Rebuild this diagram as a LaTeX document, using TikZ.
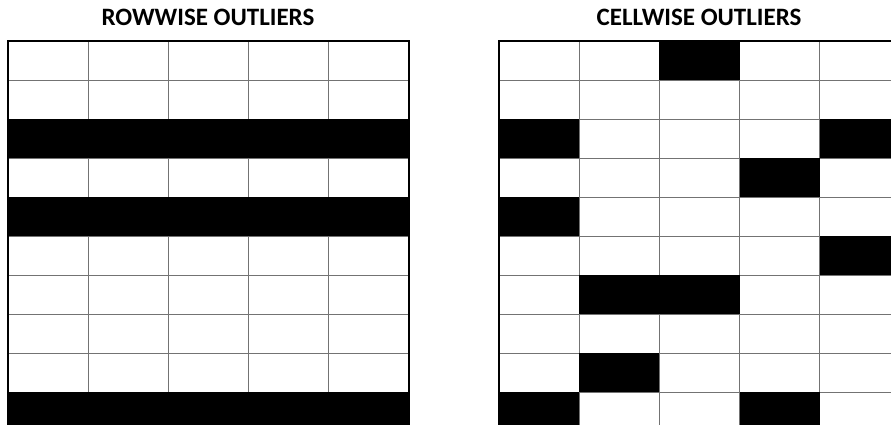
\documentclass[tikz,border=0pt]{standalone}
\usepackage{fontspec}
\setmainfont{Carlito}
\tikzset{
  gridline/.style={draw=black!55, line width=0.9pt},
  outerline/.style={draw=black, line width=2.2pt},
  outcell/.style={fill=black},
  title/.style={font=\bfseries\fontsize{25}{30}\selectfont, anchor=base, inner sep=0pt}
}
\begin{document}
\begin{tikzpicture}[x=1pt,y=-1pt]
\useasboundingbox (0,0) rectangle (891,425);
\clip (0,0) rectangle (891,425);
\fill[white] (0,0) rectangle (891,425);
\def\cw{80.2}
\def\rh{39}
% titles
\node[title] (t1) at (208,26) {ROWWISE OUTLIERS};
\node[title] (t2) at (699,26) {CELLWISE OUTLIERS};
% ---------- left grid ----------
\begin{scope}[shift={(8,41)}]
  \foreach \i in {1,...,4} \draw[gridline] ({\i*\cw},0) -- ({\i*\cw},{10*\rh});
  \foreach \j in {1,...,9} \draw[gridline] (0,{\j*\rh}) -- ({5*\cw},{\j*\rh});
  \foreach \r in {2,4,9} \fill[outcell] (0,{\r*\rh}) rectangle ({5*\cw},{(\r+1)*\rh});
  \draw[outerline] (0,{10*\rh}) -- (0,0) -- ({5*\cw},0) -- ({5*\cw},{10*\rh});
\end{scope}
% ---------- right grid ----------
\begin{scope}[shift={(499,41)}]
  \foreach \i in {1,...,4} \draw[gridline] ({\i*\cw},0) -- ({\i*\cw},{10*\rh});
  \foreach \j in {1,...,9} \draw[gridline] (0,{\j*\rh}) -- ({5*\cw},{\j*\rh});
  \foreach \r/\c in {0/2,2/0,2/4,3/3,4/0,5/4,6/1,6/2,8/1,9/0,9/3}
    \fill[outcell] ({\c*\cw},{\r*\rh}) rectangle ({(\c+1)*\cw},{(\r+1)*\rh});
  \draw[outerline] (0,{10*\rh}) -- (0,0) -- ({5*\cw},0) -- ({5*\cw},{10*\rh});
\end{scope}
\end{tikzpicture}
\end{document}
